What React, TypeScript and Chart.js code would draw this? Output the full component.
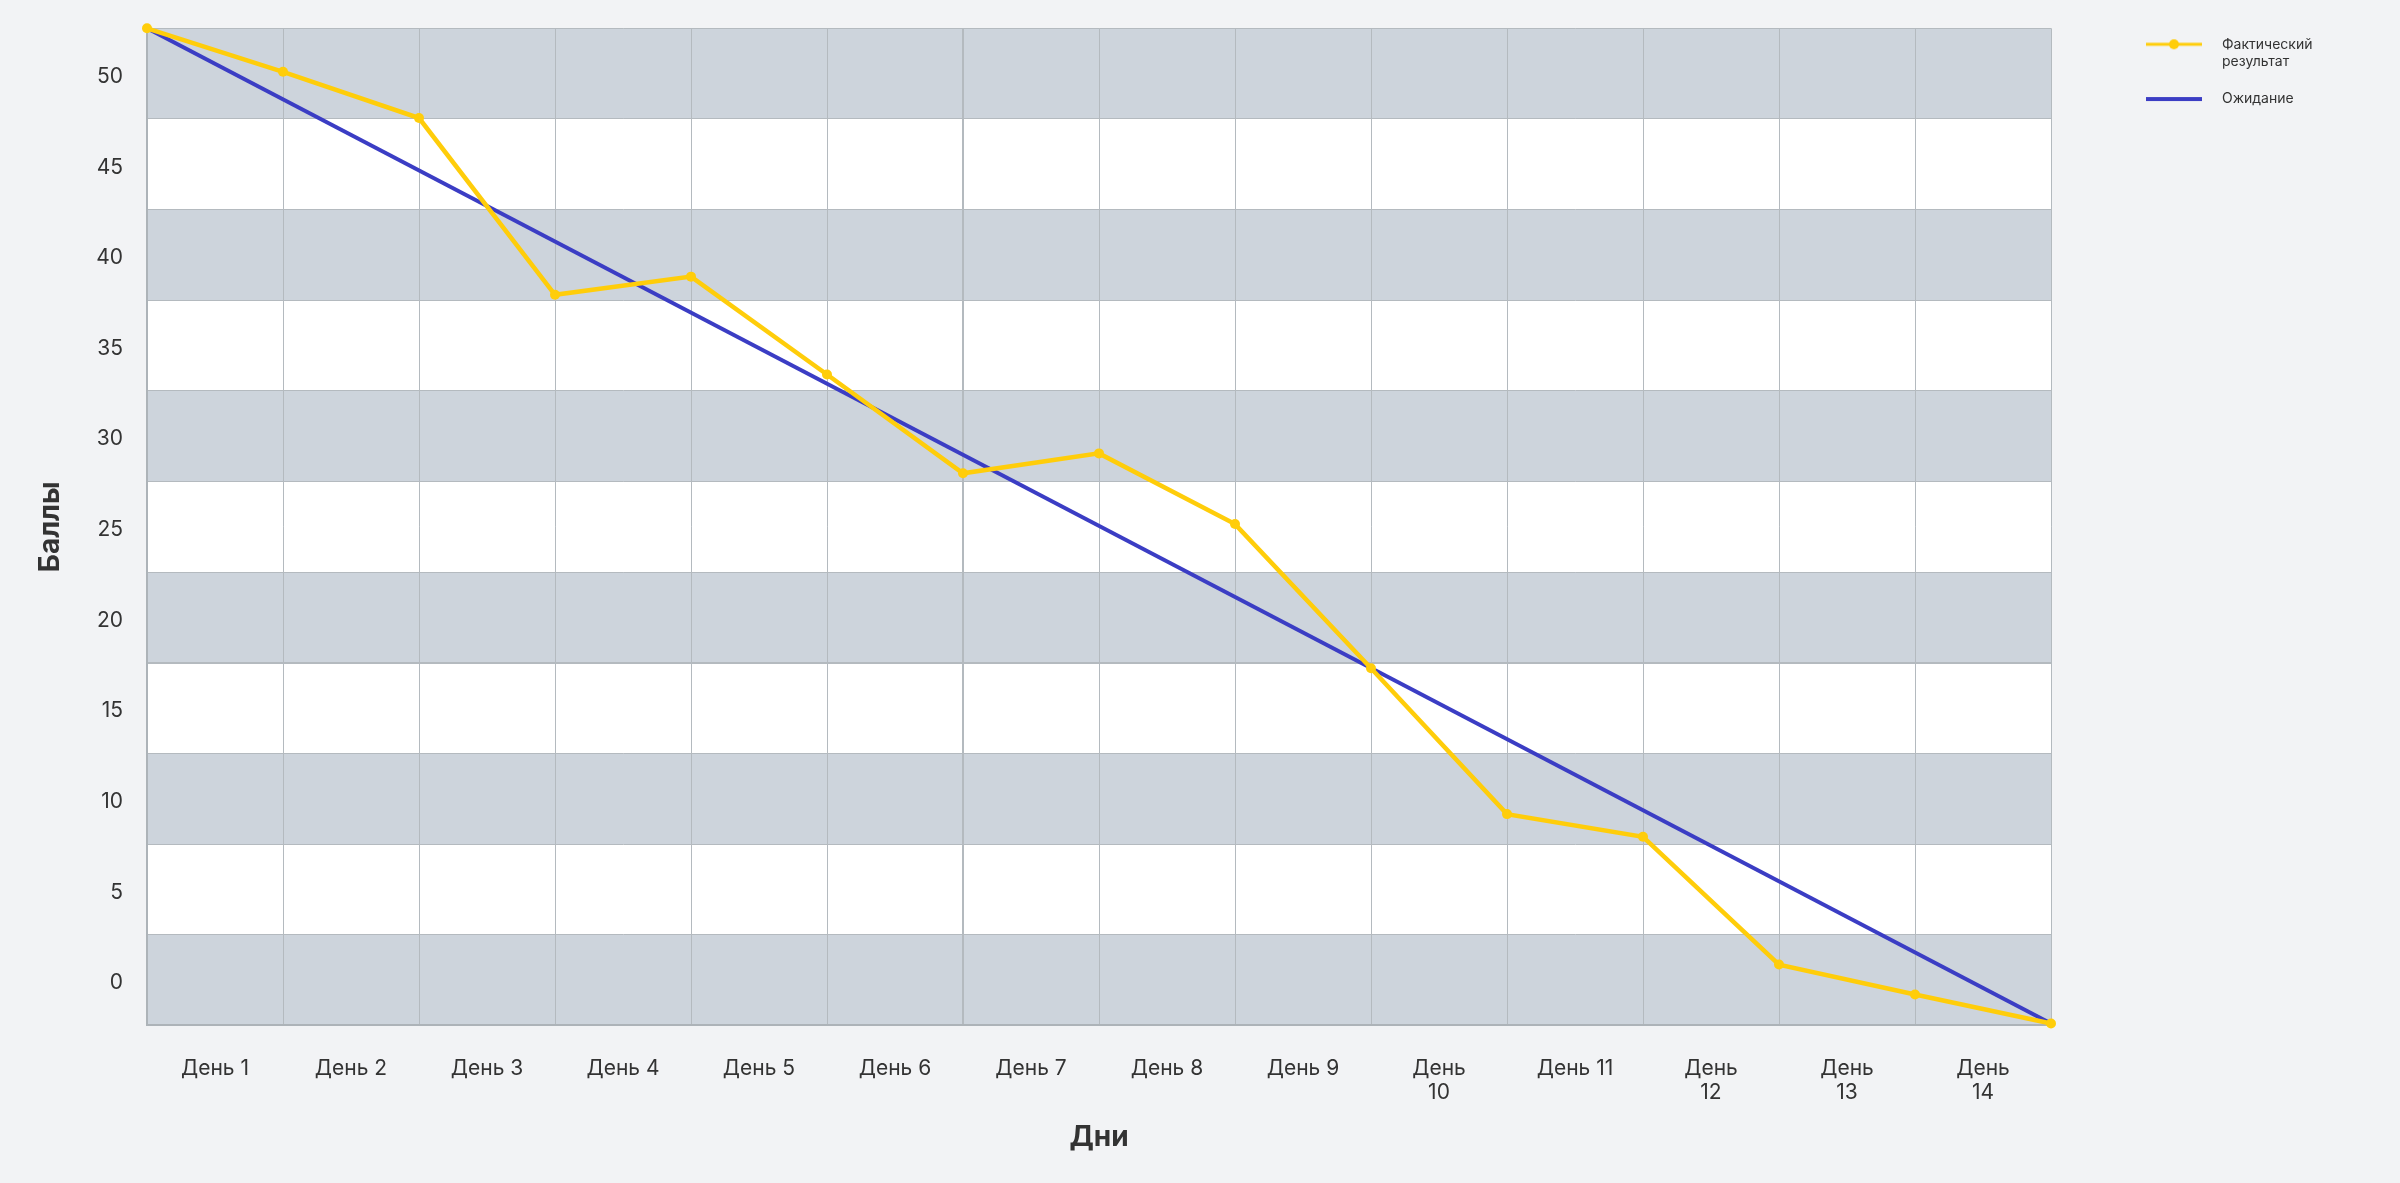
import React, { useEffect, useRef } from 'react';
import { Chart, registerables } from 'chart.js';

Chart.register(...registerables);

// ---- data ----
const dayLabels: (string | string[])[] = [
  'День 1', 'День 2', 'День 3', 'День 4', 'День 5', 'День 6', 'День 7',
  'День 8', 'День 9', ['День', '10'], 'День 11', ['День', '12'], ['День', '13'], ['День', '14'],
];
const actualIndex = [0, 1, 2, 3, 4, 5, 6, 7, 8, 9, 10, 11, 12, 13, 14];
const actualValues = [52.5, 50.1, 47.55, 37.8, 38.8, 33.4, 27.95, 29.05, 25.15, 17.2, 9.15, 7.9, 0.85, -0.8, -2.4];
const idealIndex = [0, 14];
const idealValues = [52.5, -2.4];
const seriesNames = ['Фактический результат', 'Ожидание'];
const yTitle = 'Баллы';
const xTitle = 'Дни';

// ---- axis setup ----
const yMin = -2.5;
const yMax = 52.5;
const yStep = 5;
const xMin = 0;
const xMax = 14;
const emphasisY = 17.5;
const emphasisX = 6;

// ---- styles ----
const BG = '#f2f3f5';
const BAND_GRAY = '#cdd4dc';
const BAND_WHITE = '#ffffff';
const GRID = '#b4babf';
const BORDER = '#adb3b8';
const YELLOW = '#ffcd0a';
const BLUE = '#3b3dc4';
const TEXT = '#333333';

function makeMarker(color: string, lineW: number, dot: boolean) {
  const c = document.createElement('canvas');
  c.width = 144;
  c.height = 12;
  const g = c.getContext('2d')!;
  g.strokeStyle = color;
  g.lineWidth = lineW;
  g.beginPath();
  g.moveTo(75, 6);
  g.lineTo(131, 6);
  g.stroke();
  if (dot) {
    g.fillStyle = color;
    g.beginPath();
    g.arc(103, 6, 5, 0, Math.PI * 2);
    g.fill();
  }
  return c;
}

const bandsPlugin = {
  id: 'bands',
  beforeLayout(chart: any) {
    const lg = chart.legend;
    if (lg && !lg._fixedWidth) {
      const orig = lg.fit.bind(lg);
      lg.fit = () => {
        orig();
        lg.width = 349;
      };
      lg._fixedWidth = true;
    }
  },
  beforeDraw(chart: any) {
    const { ctx, chartArea: a } = chart;
    const ys = chart.scales.y;
    ctx.save();
    ctx.fillStyle = BG;
    ctx.fillRect(0, 0, chart.width, chart.height);
    const ticks = ys.ticks;
    for (let i = 0; i < ticks.length - 1; i++) {
      const y1 = ys.getPixelForValue(ticks[i].value);
      const y2 = ys.getPixelForValue(ticks[i + 1].value);
      ctx.fillStyle = i % 2 === 0 ? BAND_GRAY : BAND_WHITE;
      ctx.fillRect(a.left, Math.min(y1, y2), a.right - a.left, Math.abs(y2 - y1));
    }
    ctx.restore();
  },
};

export default function App() {
  const ref = useRef<HTMLCanvasElement>(null);

  useEffect(() => {
    document.body.style.margin = '0';
    document.body.style.background = BG;
    Chart.defaults.font.family = "Inter, 'Noto Sans', sans-serif";
    Chart.defaults.color = TEXT;

    const markers = [makeMarker(YELLOW, 3, true), makeMarker(BLUE, 4, false)];

    const chart = new Chart(ref.current!, {
      type: 'line',
      data: {
        datasets: [
          {
            label: seriesNames[0],
            data: actualIndex.map((x, i) => ({ x, y: actualValues[i] })),
            borderColor: YELLOW,
            backgroundColor: YELLOW,
            borderWidth: 4.5,
            pointRadius: 5,
            pointBackgroundColor: YELLOW,
            pointBorderColor: YELLOW,
            pointBorderWidth: 0,
            tension: 0,
            clip: false,
            xAxisID: 'x',
            yAxisID: 'y',
          },
          {
            label: seriesNames[1],
            data: idealIndex.map((x, i) => ({ x, y: idealValues[i] })),
            borderColor: BLUE,
            backgroundColor: BLUE,
            borderWidth: 4,
            pointRadius: 0,
            tension: 0,
            clip: false,
            xAxisID: 'x',
            yAxisID: 'y',
          },
        ],
      },
      options: {
        animation: false,
        responsive: false,
        devicePixelRatio: 1,
        events: [],
        layout: { padding: { top: 17.3, left: 0, right: 0, bottom: 0 } },
        scales: {
          x: {
            type: 'linear',
            min: xMin,
            max: xMax,
            position: 'bottom',
            weight: 0,
            ticks: { display: false, stepSize: 1 },
            grid: {
              color: GRID,
              lineWidth: (c: any) => (c.tick && c.tick.value === emphasisX ? 2 : 1),
              drawTicks: false,
            },
            border: { display: true, color: BORDER, width: 2 },
          },
          xl: {
            type: 'category',
            labels: dayLabels as any,
            offset: true,
            position: 'bottom',
            weight: 1,
            grid: { display: false, drawTicks: false },
            border: { display: false },
            ticks: {
              autoSkip: false,
              maxRotation: 0,
              minRotation: 0,
              padding: 31,
              color: TEXT,
              font: { size: 21, lineHeight: 1.15 },
            },
            title: {
              display: true,
              text: xTitle,
              color: TEXT,
              font: { size: 28, weight: 'bold' },
              padding: { top: 0, bottom: 29 },
            },
            afterFit: (s: any) => {
              s.height = 157.7;
              s.paddingLeft = 0;
              s.paddingRight = 0;
            },
          },
          y: {
            type: 'linear',
            min: yMin,
            max: yMax,
            position: 'left',
            weight: 0,
            ticks: { display: false, stepSize: yStep },
            grid: {
              color: GRID,
              lineWidth: (c: any) => (c.tick && Math.abs(c.tick.value - emphasisY) < 1e-6 ? 2 : 1),
              drawTicks: false,
            },
            border: { display: true, color: BORDER, width: 2 },
          },
          yl: {
            type: 'linear',
            min: yMin,
            max: yMax,
            position: 'left',
            weight: 1,
            afterBuildTicks: (s: any) => {
              const t: { value: number }[] = [];
              for (let v = Math.ceil(s.min / yStep) * yStep; v <= s.max; v += yStep) t.push({ value: v });
              s.ticks = t;
            },
            grid: { display: false, drawTicks: false },
            border: { display: false },
            ticks: {
              padding: 24,
              labelOffset: 3,
              color: TEXT,
              font: { size: 21 },
            },
            title: {
              display: true,
              text: yTitle,
              color: TEXT,
              font: { size: 28, weight: 'bold' },
              padding: { top: 34, bottom: 0 },
            },
            afterFit: (s: any) => {
              s.width = 147;
              s.paddingTop = 28.3;
              s.paddingBottom = 0;
            },
          },
        },
        plugins: {
          tooltip: { enabled: false },
          legend: {
            display: true,
            position: 'right',
            align: 'start',
            labels: {
              usePointStyle: true,
              pointStyleWidth: 144,
              padding: 20,
              color: TEXT,
              font: { size: 14, lineHeight: 1.24 },
              generateLabels: (ch: any) => {
                const items = (Chart.defaults.plugins.legend.labels as any).generateLabels(ch);
                return items.map((it: any, i: number) => ({
                  ...it,
                  text: it.text.includes(' ') ? it.text.split(' ') : it.text,
                  pointStyle: markers[i],
                  fontColor: TEXT,
                }));
              },
            },
          },
        },
      } as any,
      plugins: [bandsPlugin as any],
    });

    return () => chart.destroy();
  }, []);

  return (
    <div style={{ width: 2400, height: 1183 }}>
      <canvas ref={ref} width={2400} height={1183} style={{ display: 'block' }} />
    </div>
  );
}
